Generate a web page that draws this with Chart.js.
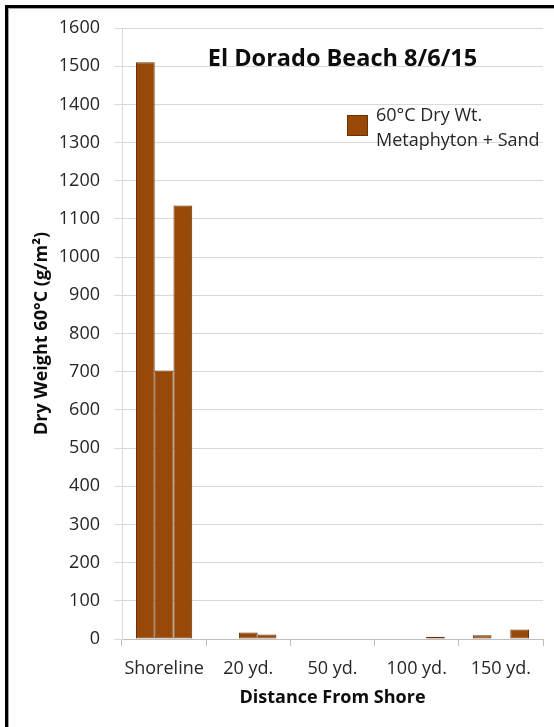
<!DOCTYPE html>
<html lang="en">
<head>
    <meta charset="UTF-8">
    <title>El Dorado Beach 8/6/15</title>
    <script src="https://cdn.jsdelivr.net/npm/chart.js@4.4.1/dist/chart.umd.min.js"></script>
    <style>
        body {
            margin: 0;
            background: #fff;
        }
        .wrap {
            position: relative;
            width: 554px;
            height: 727px;
            overflow: hidden;
        }
        .frame {
            position: absolute;
            left: 5px;
            top: 5px;
            width: 600px;
            height: 800px;
            border-left: 3px solid #000;
            border-top: 3px solid #000;
            box-shadow: inset 1px 1px 0 #a6a6a6;
            pointer-events: none;
        }
    </style>
</head>
<body>
    <div class="wrap">
        <canvas id="chart" width="554" height="727"></canvas>
        <div class="frame"></div>
    </div>

    <script>
        // Data (three replicate samples per distance)
        const categories = ['Shoreline', '20 yd.', '50 yd.', '100 yd.', '150 yd.'];
        const rep1 = [1510, 1, 0, 1, 10];
        const rep2 = [703, 17, 1, 1, 1];
        const rep3 = [1135, 12, 0, 6, 25];
        const seriesName = ['60°C Dry Wt.', 'Metaphyton + Sand'];
        const chartTitle = 'El Dorado Beach 8/6/15';
        const yMin = 0, yMax = 1600, yStep = 100;

        const barFill = '#984807';
        const barEdge = '#6b3305';
        const font = 'Open Sans';
        const textColor = '#262626';

        // title and legend sit inside the plot area, like the Excel original
        const insideLabels = {
            id: 'insideLabels',
            afterDraw(chart) {
                const ctx = chart.ctx;
                ctx.save();
                ctx.fillStyle = '#0d0d0d';
                ctx.font = 'bold 23.5px "' + font + '"';
                ctx.textAlign = 'center';
                ctx.textBaseline = 'alphabetic';
                ctx.fillText(chartTitle, 342.5, 66);

                ctx.fillStyle = barFill;
                ctx.fillRect(347, 115, 21, 21);
                ctx.strokeStyle = barEdge;
                ctx.lineWidth = 1;
                ctx.strokeRect(347.5, 115.5, 20, 20);

                ctx.fillStyle = textColor;
                ctx.font = '18px "' + font + '"';
                ctx.textAlign = 'left';
                seriesName.forEach((line, i) => ctx.fillText(line, 376, 121 + i * 25));
                ctx.restore();
            }
        };

        const ds = (label, data) => ({
            label: label,
            data: data,
            backgroundColor: barFill,
            borderColor: barEdge,
            borderWidth: 1,
            borderSkipped: false,
            categoryPercentage: 0.668,
            barPercentage: 1
        });

        new Chart(document.getElementById('chart'), {
            type: 'bar',
            data: {
                labels: categories,
                datasets: [
                    ds(seriesName.join(' '), rep1),
                    ds('rep2', rep2),
                    ds('rep3', rep3)
                ]
            },
            options: {
                responsive: false,
                animation: false,
                layout: {
                    padding: { top: 28, right: 11, bottom: 0, left: 0 }
                },
                plugins: {
                    legend: { display: false },
                    title: { display: false },
                    tooltip: { enabled: false }
                },
                scales: {
                    x: {
                        grid: {
                            display: true,
                            drawOnChartArea: false,
                            drawTicks: true,
                            tickLength: 7,
                            color: '#bfbfbf',
                            offset: true
                        },
                        border: { display: true, color: '#bfbfbf' },
                        ticks: {
                            color: textColor,
                            font: { family: font, size: 18 },
                            padding: 12,
                            maxRotation: 0
                        },
                        title: {
                            display: true,
                            text: 'Distance From Shore',
                            color: '#0d0d0d',
                            font: { family: font, size: 18, weight: 'bold' },
                            padding: { top: 0, bottom: 18 }
                        },
                        afterFit(scale) { scale.height = 88; }
                    },
                    y: {
                        min: yMin,
                        max: yMax,
                        grid: {
                            color: '#d9d9d9',
                            tickLength: 8
                        },
                        border: { display: true, color: '#d9d9d9' },
                        ticks: {
                            stepSize: yStep,
                            color: textColor,
                            font: { family: font, size: 18 },
                            padding: 14,
                            callback: v => String(v)
                        },
                        title: {
                            display: true,
                            text: 'Dry Weight 60°C (g/m²)',
                            color: '#0d0d0d',
                            font: { family: font, size: 18, weight: 'bold' },
                            padding: { top: 31, bottom: 0 }
                        },
                        afterFit(scale) { scale.width = 122; }
                    }
                }
            },
            plugins: [insideLabels]
        });
    </script>
</body>
</html>
